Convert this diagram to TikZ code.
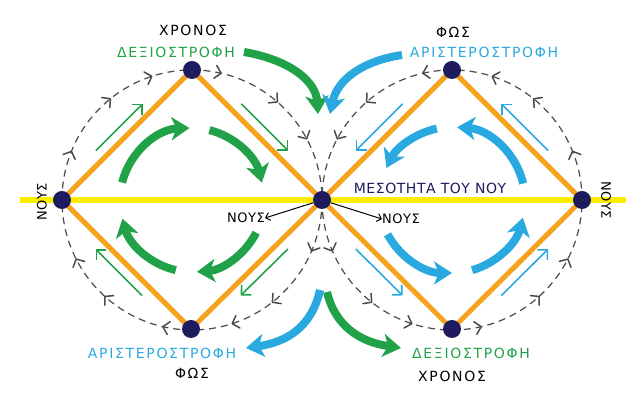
\documentclass[tikz,border=0pt]{standalone}
\usepackage{fontspec}
\setmainfont{DejaVu Sans}
\newfontfamily\archaic[LetterSpace=12]{DejaVu Sans}
\newfontfamily\archaicnarrow[LetterSpace=4]{DejaVu Sans}
\usetikzlibrary{arrows.meta, positioning, calc, backgrounds, decorations.markings}
\definecolor{axisyellow}{HTML}{FFED00}
\definecolor{edgeorange}{HTML}{F5A21F}
\definecolor{hubnavy}{HTML}{1E1B5E}
\definecolor{flowgreen}{HTML}{21A249}
\definecolor{flowblue}{HTML}{2AA9E0}
\definecolor{dashgray}{HTML}{4A4A4A}

\begin{document}
\begin{tikzpicture}[
    x=1pt, y=1pt,
    % ── Node styles ──────────────────────────────────────────────────────
    hub/.style={circle, fill=hubnavy, minimum size=18pt, inner sep=0pt},
    word/.style={font=\fontsize{14}{16}\selectfont\archaic, inner sep=0pt},
    blackword/.style={word, text=black},
    greenword/.style={word, text=flowgreen},
    blueword/.style={word, text=flowblue},
    navyword/.style={word, text=hubnavy, font=\fontsize{14}{16}\selectfont\archaicnarrow},
    smallword/.style={word, text=black, font=\fontsize{13}{15}\selectfont\archaicnarrow},
    % ── Line styles ──────────────────────────────────────────────────────
    axis/.style={draw=axisyellow, line width=6pt},
    rim/.style={draw=edgeorange, line width=5pt, line cap=round},
    orbit/.style={draw=dashgray, line width=1.2pt, dash pattern=on 7pt off 5pt},
    orbittip/.style={postaction={decorate, decoration={markings,
        mark=at position #1 with {\draw[solid, dashgray, line width=1.5pt,
            line cap=round, line join=round] (-6pt,6.5pt) -- (0,0) -- (-6pt,-6.5pt);}}}},
    greenbend/.style={draw=flowgreen, line width=8pt,
        -{Stealth[length=18pt, width=23pt, inset=5pt]}},
    bluebend/.style={greenbend, draw=flowblue},
    greenline/.style={draw=flowgreen, line width=1.6pt,
        -{Straight Barb[length=7pt, width=14pt]}},
    blueline/.style={greenline, draw=flowblue},
    pointer/.style={draw=black, line width=1pt,
        -{Straight Barb[length=4pt, width=8pt]}}
]
\useasboundingbox (0,0) rectangle (640,406);

% ═══════════════════════════════════════════════════════════════════════════
% Hubs
% ═══════════════════════════════════════════════════════════════════════════
\node[hub] (C)  at (322,206) {};
\node[hub] (L)  at (62,206)  {};
\node[hub] (R)  at (582,206) {};
\node[hub] (TL) at (192,336) {};
\node[hub] (BL) at (191,77)  {};
\node[hub] (TR) at (452,336) {};
\node[hub] (BR) at (452,77)  {};
\coordinate (lc) at (192,206);
\coordinate (rc) at (452,206);
\coordinate (axisW) at (20,206);
\coordinate (axisE) at (626,206);

% ═══════════════════════════════════════════════════════════════════════════
% Words
% ═══════════════════════════════════════════════════════════════════════════
\node[blackword] (chronosT) at (193,376) {ΧΡΟΝΟΣ};
\node[greenword] (dexiT)    at (176,354) {ΔΕΞΙΟΣΤΡΟΦΗ};
\node[blackword] (phosT)    at (453,374) {ΦΩΣ};
\node[blueword]  (aristT)   at (484,354) {ΑΡΙΣΤΕΡΟΣΤΡΟΦΗ};

\node[blueword]  (aristB)   at (162,53)  {ΑΡΙΣΤΕΡΟΣΤΡΟΦΗ};
\node[blackword] (phosB)    at (192,33)  {ΦΩΣ};
\node[greenword] (dexiB)    at (471,53)  {ΔΕΞΙΟΣΤΡΟΦΗ};
\node[blackword] (chronosB) at (452,30)  {ΧΡΟΝΟΣ};

\node[smallword, rotate=90]  (nousW) at (42,204)  {ΝΟΥΣ};
\node[smallword, rotate=-90] (nousE) at (606,206) {ΝΟΥΣ};
\node[navyword]  (meso)  at (430,218) {ΜΕΣΟΤΗΤΑ ΤΟΥ ΝΟΥ};
\node[smallword] (nousL) at (246,188) {ΝΟΥΣ};
\node[smallword] (nousR) at (401,187) {ΝΟΥΣ};

% ═══════════════════════════════════════════════════════════════════════════
% Axis, rims and orbits
% ═══════════════════════════════════════════════════════════════════════════
\begin{scope}[on background layer]
    \draw[axis] (axisW) -- (axisE);
    \draw[orbit, orbittip/.list={0.064,0.144,0.200,0.286,0.367,0.425,
                                 0.561,0.642,0.700,0.786,0.864,0.922}]
        (C.center) arc[start angle=0, end angle=-360, radius=130];
    \draw[orbit, orbittip/.list={0.064,0.144,0.200,0.286,0.367,0.425,
                                 0.561,0.642,0.700,0.786,0.864,0.922}]
        (C.center) arc[start angle=180, end angle=540, radius=130];
    \draw[rim] (L.center) -- (TL.center) -- (C.center) -- (BL.center) -- cycle;
    \draw[rim] (R.center) -- (TR.center) -- (C.center) -- (BR.center) -- cycle;
\end{scope}

% Pointers to the two words under the middle
\draw[pointer] (C) -- (nousL.east);
\draw[pointer] (C) -- (nousR.west);

% ═══════════════════════════════════════════════════════════════════════════
% Thin arrows along the rims
% ═══════════════════════════════════════════════════════════════════════════
\foreach \a/\b/\n in {L/TL/135, TL/C/45, C/BL/-45, BL/L/-135}
    \draw[greenline] ($(\a)!0.32!(\b)+(\n:11)$) -- ($(\a)!0.68!(\b)+(\n:11)$);
\foreach \a/\b/\n in {TR/C/135, R/TR/45, C/BR/-135, BR/R/-45}
    \draw[blueline] ($(\a)!0.32!(\b)+(\n:11)$) -- ($(\a)!0.68!(\b)+(\n:11)$);

% ═══════════════════════════════════════════════════════════════════════════
% Thick turning arrows
% ═══════════════════════════════════════════════════════════════════════════
% Left: clockwise
\foreach \s/\e in {166/92, 76/14, -27/-86, -103/-165}
    \draw[greenbend] ($(lc)+(\s:72)$) arc[start angle=\s, end angle=\e, radius=72];
% Right: counterclockwise
\foreach \s/\e in {13/86, 102/154, 208/270, -74/-14}
    \draw[bluebend] ($(rc)+(\s:73)$) arc[start angle=\s, end angle=\e, radius=73];

% Outer arrows into and out of the middle
\draw[greenbend] (244,354) .. controls (290,346) and (316,325) .. (318,292);
\draw[bluebend]  (402,351) .. controls (362,345) and (337,326) .. (330,292);
\draw[bluebend]  (320,116) .. controls (312,80) and (288,64) .. (246,58);
\draw[greenbend] (327,114) .. controls (335,80) and (360,64) .. (401,58);

\end{tikzpicture}
\end{document}
